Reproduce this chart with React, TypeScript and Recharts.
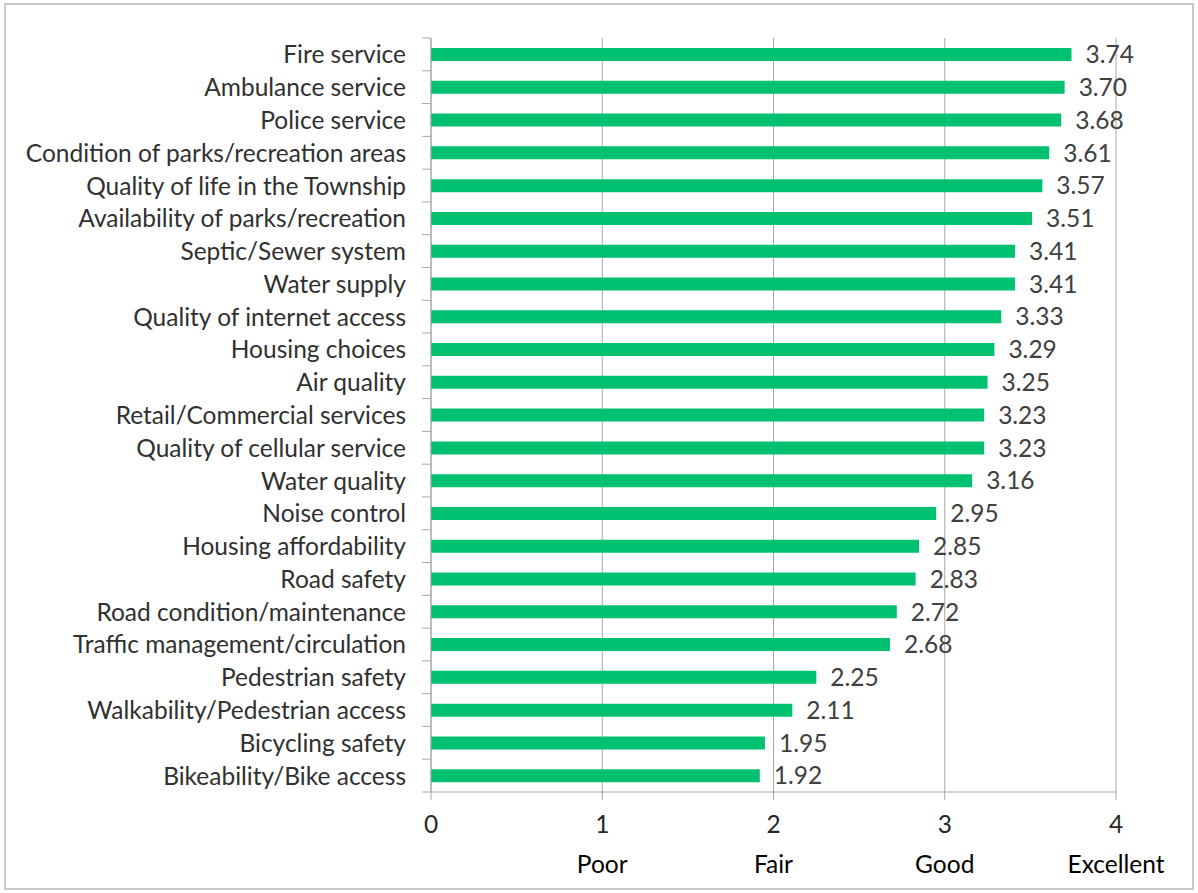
import React from 'react';
import { BarChart, Bar, XAxis, YAxis, CartesianGrid, LabelList } from 'recharts';

const categories = [
  'Fire service',
  'Ambulance service',
  'Police service',
  'Condition of parks/recreation areas',
  'Quality of life in the Township',
  'Availability of parks/recreation',
  'Septic/Sewer system',
  'Water supply',
  'Quality of internet access',
  'Housing choices',
  'Air quality',
  'Retail/Commercial services',
  'Quality of cellular service',
  'Water quality',
  'Noise control',
  'Housing affordability',
  'Road safety',
  'Road condition/maintenance',
  'Traffic management/circulation',
  'Pedestrian safety',
  'Walkability/Pedestrian access',
  'Bicycling safety',
  'Bikeability/Bike access',
];

const scores = [
  3.74, 3.7, 3.68, 3.61, 3.57, 3.51, 3.41, 3.41, 3.33, 3.29, 3.25, 3.23,
  3.23, 3.16, 2.95, 2.85, 2.83, 2.72, 2.68, 2.25, 2.11, 1.95, 1.92,
];

const xTicks = [0, 1, 2, 3, 4];
const ratingNames = ['', 'Poor', 'Fair', 'Good', 'Excellent'];

const data = categories.map((name, i) => ({ name, score: scores[i] }));

const FONT = 'Lato, "Liberation Sans", sans-serif';
const FS = 24.5;
const GRID = '#a6a6a6';
const TOP = 38;
const BOTTOM = 101;
const HEIGHT = 893;
const BAND = (HEIGHT - TOP - BOTTOM) / categories.length;

const YTick = (props: any) => {
  const { x, y, payload, index } = props;
  const ax = x + 25; // axis line position
  return (
    <g>
      <line x1={ax - 9} x2={ax} y1={y - BAND / 2} y2={y - BAND / 2} stroke={GRID} />
      {index === categories.length - 1 && (
        <line x1={ax - 9} x2={ax} y1={y + BAND / 2} y2={y + BAND / 2} stroke={GRID} />
      )}
      <text x={x} y={y} dy={9} textAnchor="end" fontSize={FS} fill="#303030" fontFamily={FONT}>
        {payload.value}
      </text>
    </g>
  );
};

const XTick = (props: any) => {
  const { x, y, payload } = props;
  return (
    <g>
      <text x={x} y={y} dy={31} textAnchor="middle" fontSize={FS} fill="#262626" fontFamily={FONT}>
        {payload.value}
      </text>
      <text x={x} y={y} dy={71} textAnchor="middle" fontSize={FS} fill="#000" fontFamily={FONT}>
        {ratingNames[payload.value]}
      </text>
    </g>
  );
};

export default function App() {
  return (
    <div style={{ position: 'absolute', left: 0, top: 0, width: 1198, height: 893, background: '#fff' }}>
      <div
        style={{
          position: 'absolute',
          left: 4,
          top: 3,
          width: 1186,
          height: 883,
          border: '2px solid #c8c8c8',
        }}
      />
      <div style={{ position: 'absolute', left: 0, top: 0 }}>
        <BarChart
          width={1198}
          height={HEIGHT}
          data={data}
          layout="vertical"
          margin={{ top: TOP, right: 82, bottom: 0, left: 0 }}
        >
          <CartesianGrid horizontal={false} stroke={GRID} strokeWidth={1} />
          <XAxis
            type="number"
            domain={[0, 4]}
            ticks={xTicks}
            height={BOTTOM}
            stroke={GRID}
            tickSize={8}
            tick={<XTick />}
          />
          <YAxis
            type="category"
            dataKey="name"
            width={431}
            stroke={GRID}
            tickLine={false}
            tickSize={9}
            tickMargin={16}
            tick={<YTick />}
            interval={0}
          />
          <Bar dataKey="score" fill="#00c170" barSize={13} isAnimationActive={false}>
            <LabelList
              dataKey="score"
              position="right"
              offset={14}
              formatter={(v: any) => Number(v).toFixed(2)}
              style={{ fontSize: FS, fill: '#404040', fontFamily: FONT }}
            />
          </Bar>
        </BarChart>
      </div>
    </div>
  );
}
